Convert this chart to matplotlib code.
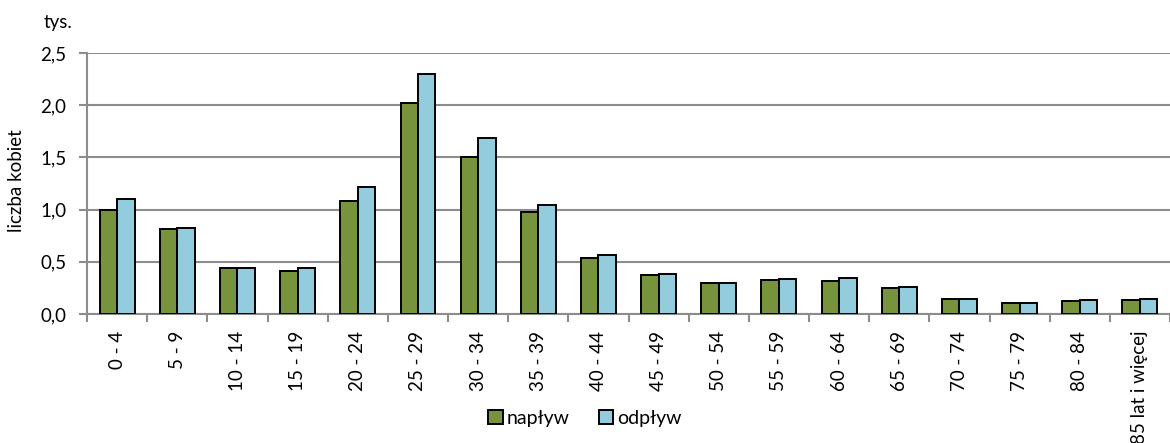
import numpy as np
import matplotlib.pyplot as plt

# age groups and values (thousands of women)
age_groups = ['0 - 4', '5 - 9', '10 - 14', '15 - 19', '20 - 24', '25 - 29',
              '30 - 34', '35 - 39', '40 - 44', '45 - 49', '50 - 54', '55 - 59',
              '60 - 64', '65 - 69', '70 - 74', '75 - 79', '80 - 84',
              '85 lat i więcej']
naplyw = [1.00, 0.81, 0.44, 0.41, 1.085, 2.02, 1.50, 0.98, 0.54, 0.37,
          0.30, 0.33, 0.315, 0.25, 0.14, 0.105, 0.125, 0.135]
odplyw = [1.10, 0.82, 0.44, 0.44, 1.22, 2.30, 1.69, 1.04, 0.565, 0.38,
          0.30, 0.34, 0.345, 0.26, 0.14, 0.11, 0.13, 0.14]
y_ticks = [0.0, 0.5, 1.0, 1.5, 2.0, 2.5]

green = '#77933C'
blue = '#93CDDD'
grid_col = '#8C8C8C'
fs = 13.5

plt.rcParams['font.family'] = ['Lato', 'DejaVu Sans']

fig = plt.figure(figsize=(11.7, 4.43), dpi=100)
ax = fig.add_axes([0.0744, 0.2912, 0.9256, 0.5892])

x = np.arange(len(age_groups))
w = 0.29
ax.bar(x - w / 2, naplyw, w, color=green, edgecolor='black', linewidth=1.4,
       label='napływ', zorder=3)
ax.bar(x + w / 2, odplyw, w, color=blue, edgecolor='black', linewidth=1.4,
       label='odpływ', zorder=3)

ax.set_xlim(-0.5, len(age_groups) - 0.5)
ax.set_ylim(0, 2.5)
ax.set_yticks(y_ticks)
ax.set_yticklabels([f'{v:.1f}'.replace('.', ',') for v in y_ticks], fontsize=fs)
ax.set_xticks(x)
ax.set_xticklabels(age_groups, rotation=90, fontsize=fs, va='top')
ax.set_xticks(np.arange(len(age_groups) + 1) - 0.5, minor=True)
ax.tick_params(axis='x', which='major', length=0, pad=12)
ax.tick_params(axis='x', which='minor', length=6, width=1.5, color=grid_col,
               direction='out')
ax.tick_params(axis='y', length=6, width=1.5, color=grid_col, pad=9)

ax.grid(axis='y', color=grid_col, linewidth=1.5, zorder=0)
for s in ['top', 'right']:
    ax.spines[s].set_visible(False)
for s in ['left', 'bottom']:
    ax.spines[s].set_color(grid_col)
    ax.spines[s].set_linewidth(1.5)

ax.set_ylabel('liczba kobiet', fontsize=fs)
ax.yaxis.set_label_coords(-0.057, 0.51)
fig.text(0.037, 0.95, 'tys.', fontsize=fs, ha='left', va='center')

fig.legend(loc='center', bbox_to_anchor=(0.5, 0.056), ncol=2, frameon=False,
           fontsize=fs + 0.5, handlelength=0.75, handleheight=0.75,
           handletextpad=0.2, columnspacing=1.5)

fig.savefig('out.png', dpi=100)
